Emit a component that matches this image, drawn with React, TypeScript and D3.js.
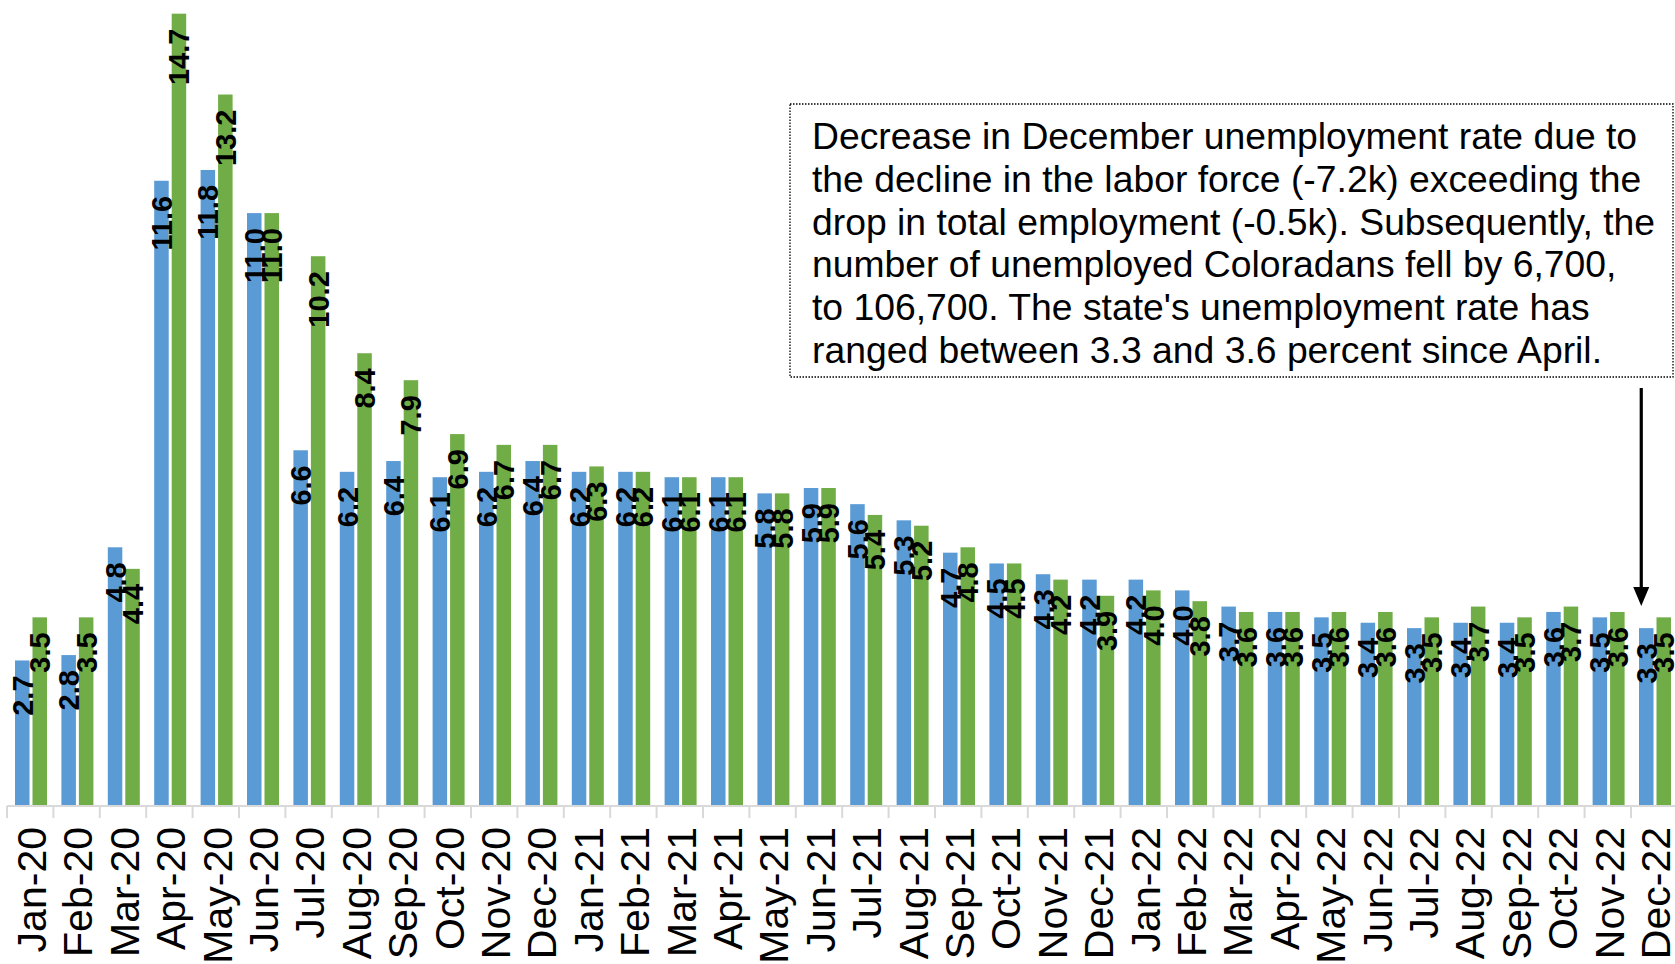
import React from "react";
import * as d3 from "d3";

const months = [
  "Jan-20","Feb-20","Mar-20","Apr-20","May-20","Jun-20","Jul-20","Aug-20","Sep-20","Oct-20","Nov-20","Dec-20",
  "Jan-21","Feb-21","Mar-21","Apr-21","May-21","Jun-21","Jul-21","Aug-21","Sep-21","Oct-21","Nov-21","Dec-21",
  "Jan-22","Feb-22","Mar-22","Apr-22","May-22","Jun-22","Jul-22","Aug-22","Sep-22","Oct-22","Nov-22","Dec-22",
];

const colorado = [
  2.7, 2.8, 4.8, 11.6, 11.8, 11.0, 6.6, 6.2, 6.4, 6.1, 6.2, 6.4,
  6.2, 6.2, 6.1, 6.1, 5.8, 5.9, 5.6, 5.3, 4.7, 4.5, 4.3, 4.2,
  4.2, 4.0, 3.7, 3.6, 3.5, 3.4, 3.3, 3.4, 3.4, 3.6, 3.5, 3.3,
];

const unitedStates = [
  3.5, 3.5, 4.4, 14.7, 13.2, 11.0, 10.2, 8.4, 7.9, 6.9, 6.7, 6.7,
  6.3, 6.2, 6.1, 6.1, 5.8, 5.9, 5.4, 5.2, 4.8, 4.5, 4.2, 3.9,
  4.0, 3.8, 3.6, 3.6, 3.6, 3.6, 3.5, 3.7, 3.5, 3.7, 3.6, 3.5,
];

const seriesKeys = ["co", "us"];
const seriesColors = ["#5B9BD5", "#70AD47"];

const noteLines = [
  "Decrease in December unemployment rate due to",
  "the decline in the labor force (-7.2k) exceeding the",
  "drop in total employment (-0.5k). Subsequently, the",
  "number of unemployed Coloradans fell by 6,700,",
  "to 106,700. The state's unemployment rate has",
  "ranged between 3.3 and 3.6 percent since April.",
];

const W = 1675;
const H = 964;
const FONT = "'Liberation Sans', Arial, Helvetica, sans-serif";

export default function App() {
  const baseY = 806;
  const step = 46.4;
  const x0 = d3.scaleBand<string>().domain(months).range([7, 7 + months.length * step]).padding(0);
  const x1 = d3.scaleBand<string>().domain(seriesKeys).range([8, 40]).paddingInner(0.17).paddingOuter(0);
  const y = d3.scaleLinear().domain([0, 15]).range([baseY, baseY - 15 * 53.9]);

  const series = [colorado, unitedStates];

  const decX = (x0("Dec-22") ?? 0) + (x1("co") ?? 0) + x1.bandwidth() / 2 - 5;

  return (
    <svg width={W} height={H} style={{ position: "absolute", left: 0, top: 0, background: "#fff" }} fontFamily={FONT}>
      <rect x={0} y={0} width={W} height={H} fill="#fff" />
      {/* bars */}
      {months.map((m, i) => (
        <g key={m} transform={`translate(${x0(m)},0)`}>
          {series.map((vals, s) => (
            <rect
              key={s}
              x={x1(seriesKeys[s])}
              y={y(vals[i])}
              width={x1.bandwidth()}
              height={baseY - y(vals[i])}
              fill={seriesColors[s]}
            />
          ))}
        </g>
      ))}
      {/* data labels */}
      {months.map((m, i) => (
        <g key={"l" + m} transform={`translate(${x0(m)},0)`}>
          {series.map((vals, s) => {
            const cx = (x1(seriesKeys[s]) ?? 0) + x1.bandwidth() / 2;
            const ty = y(vals[i]) + 15;
            return (
              <text
                key={s}
                transform={`translate(${cx},${ty}) rotate(-90)`}
                textAnchor="end"
                dy="0.36em"
                fontSize={29}
                fontWeight="bold"
                fill="#000"
              >
                {vals[i].toFixed(1)}
              </text>
            );
          })}
        </g>
      ))}
      {/* axis */}
      <line x1={x0.range()[0]} x2={W} y1={baseY} y2={baseY} stroke="#d9d9d9" strokeWidth={2} />
      {months.map((m) => (
        <line key={"t" + m} x1={x0(m)} x2={x0(m)} y1={baseY} y2={baseY + 12} stroke="#d9d9d9" strokeWidth={2} />
      ))}
      <line x1={x0.range()[1]} x2={x0.range()[1]} y1={baseY} y2={baseY + 12} stroke="#d9d9d9" strokeWidth={2} />
      {months.map((m) => (
        <text
          key={"tl" + m}
          transform={`translate(${(x0(m) ?? 0) + x0.bandwidth() / 2 + 1},${baseY + 21}) rotate(-90)`}
          textAnchor="end"
          dy="0.36em"
          fontSize={41}
          fill="#000"
        >
          {m}
        </text>
      ))}
      {/* annotation */}
      <rect x={790} y={104} width={883} height={273} fill="#fff" stroke="#000" strokeWidth={1.3} strokeDasharray="1.5 1.5" />
      {noteLines.map((t, i) => (
        <text key={"n" + i} x={812} y={149 + i * 42.8} fontSize={37.3} fill="#000">
          {t}
        </text>
      ))}
      <line x1={decX} x2={decX} y1={388} y2={592} stroke="#000" strokeWidth={3.2} />
      <polygon points={`${decX - 8},${587} ${decX + 8},${587} ${decX},${606}`} fill="#000" />
    </svg>
  );
}
